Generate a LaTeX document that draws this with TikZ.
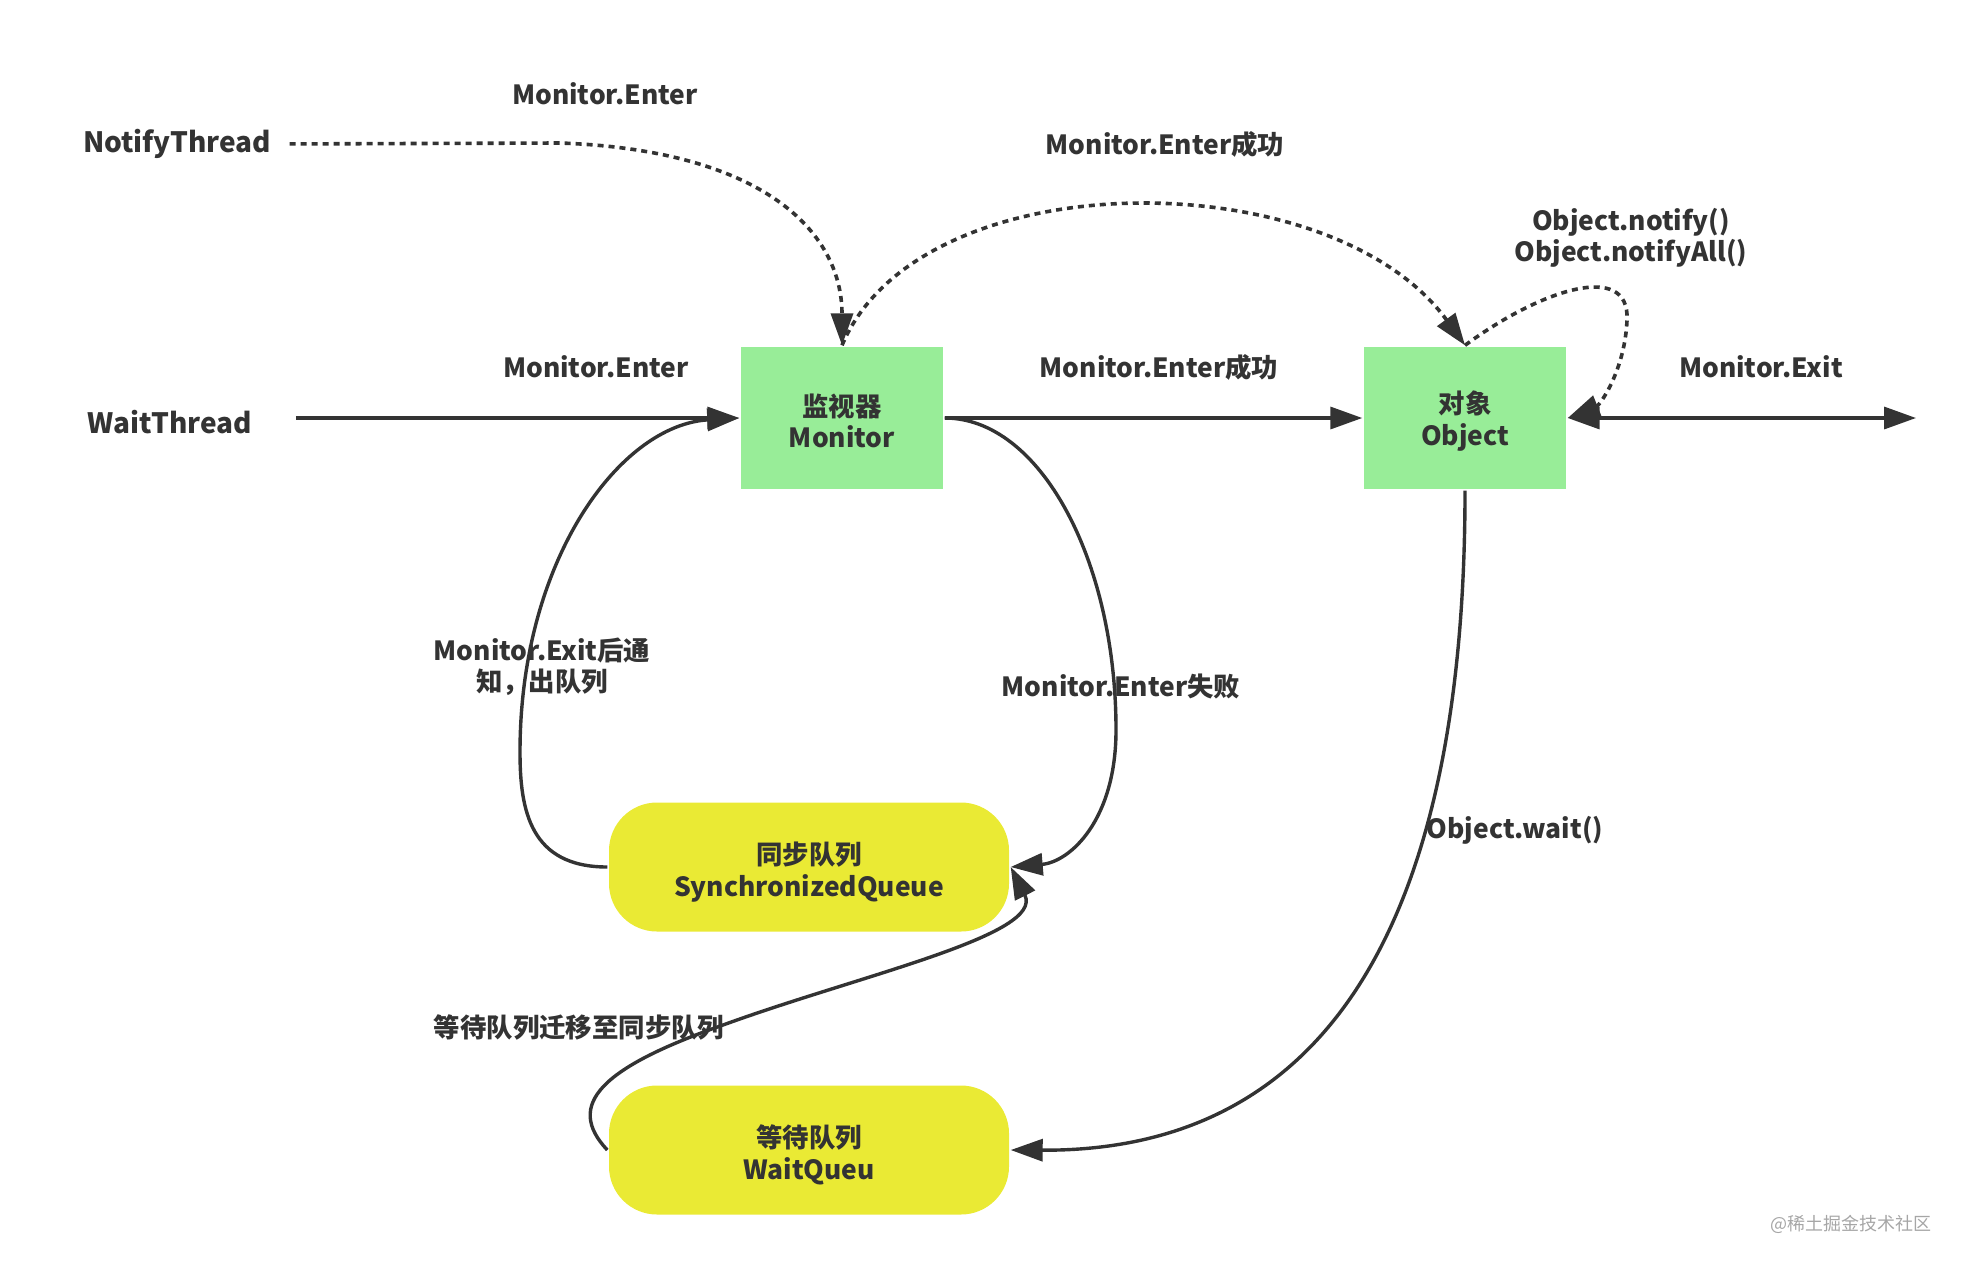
\documentclass[tikz,border=0pt]{standalone}
\usepackage{fontspec}
\setmainfont{Noto Sans CJK SC}
\usetikzlibrary{arrows.meta}
\definecolor{ink}{HTML}{333333}
\definecolor{mongreen}{HTML}{98ED98}
\definecolor{qyellow}{HTML}{EAEA34}
\tikzset{gb/.style = {fill=mongreen, minimum width=101pt, minimum height=71pt, inner sep=0pt},
         yq/.style = {fill=qyellow, rounded corners=24pt, minimum width=200pt, minimum height=64.5pt, inner sep=0pt},
         lb/.style = {inner sep=0pt, align=center, font=\bfseries\fontsize{13.2}{15.7}\selectfont},
         th/.style = {inner sep=0pt, font=\bfseries\fontsize{14}{17}\selectfont},
         wm/.style = {inner sep=0pt, text=black!35, font=\fontsize{9}{10}\selectfont},
         dl/.style = {line width=1.8pt, dash pattern=on 3pt off 2.5pt}}

\begin{document}
\begin{tikzpicture}[x=0.5pt, y=-0.5pt, >={Triangle[length=16pt, width=11pt]}, line width=1.7pt, color=ink]
    \useasboundingbox (0,0) rectangle (1962,1264);
    \node[gb, label={[lb, yshift=-1.5pt]center:监视器\\Monitor}] (mon) at (842,418) {};
    \node[gb, label={[lb, yshift=-1.5pt]center:对象\\Object}] (obj) at (1465,418) {};
    \node[yq, label={[lb, yshift=-2.5pt]center:同步队列\\SynchronizedQueue}] (sq) at (809,867) {};
    \node[yq, label={[lb, yshift=-2.5pt]center:等待队列\\WaitQueu}] (wq) at (809,1150) {};
    \node[th] (wt)  at (170,422)  {WaitThread};
    \node[th] (nt)  at (177,144)  {NotifyThread};
    \coordinate (out) at (1916,418);
    \node[lb] (l1)  at (605,94)   {Monitor.Enter};
    \node[lb] (l2)  at (1165,144) {Monitor.Enter成功};
    \node[lb] (l3)  at (1631,238) {Object.notify()\\Object.notifyAll()};
    \node[lb] (l4)  at (596,367)  {Monitor.Enter};
    \node[lb] (l5)  at (1159,367) {Monitor.Enter成功};
    \node[lb] (l6)  at (1761,367) {Monitor.Exit};
    \node[lb] (l7)  at (542,667)  {Monitor.Exit后通\\知，出队列};
    \node[lb] (l8)  at (1121,686) {Monitor.Enter失败};
    \node[lb] (l9)  at (1515,830) {Object.wait()};
    \node[lb] (l10) at (579,1027) {等待队列迁移至同步队列};
    \node[wm] (wmk) at (1851,1224) {@稀土掘金技术社区};
    \draw[->, shorten <=21pt] (wt.east |- mon.west) -- (mon.west);
    \draw[->] (mon.east) -- (obj.west);
    \draw[<->] (obj.east) -- (out);
    \draw[->, dl, shorten <=8.5pt] (nt.east) -- (560,143) .. controls (760,150) and (842,230) .. (mon.north);
    \draw[->, dl] (mon.north) .. controls (920,160) and (1330,160) .. (obj.north);
    \draw[->, dl] (obj.north) .. controls (1540,290) and (1630,260) .. (1627,320)
                              .. controls (1625,370) and (1600,405) .. (obj.east);
    \draw[->] (mon.east) .. controls (1040,418) and (1116,560) .. (1116,730)
                         .. controls (1116,820) and (1070,862) .. (sq.east);
    \draw[->] (sq.west) .. controls (530,867) and (520,810) .. (520,752)
                        .. controls (520,560) and (620,425) .. (mon.west);
    \draw[->] (obj.south) .. controls (1465,820) and (1385,1152) .. (wq.east);
    \draw[->] (wq.west) .. controls (565,1105) and (600,1068) .. (723,1025)
                        .. controls (860,975) and (1045,935) .. (sq.east);
\end{tikzpicture}
\end{document}
